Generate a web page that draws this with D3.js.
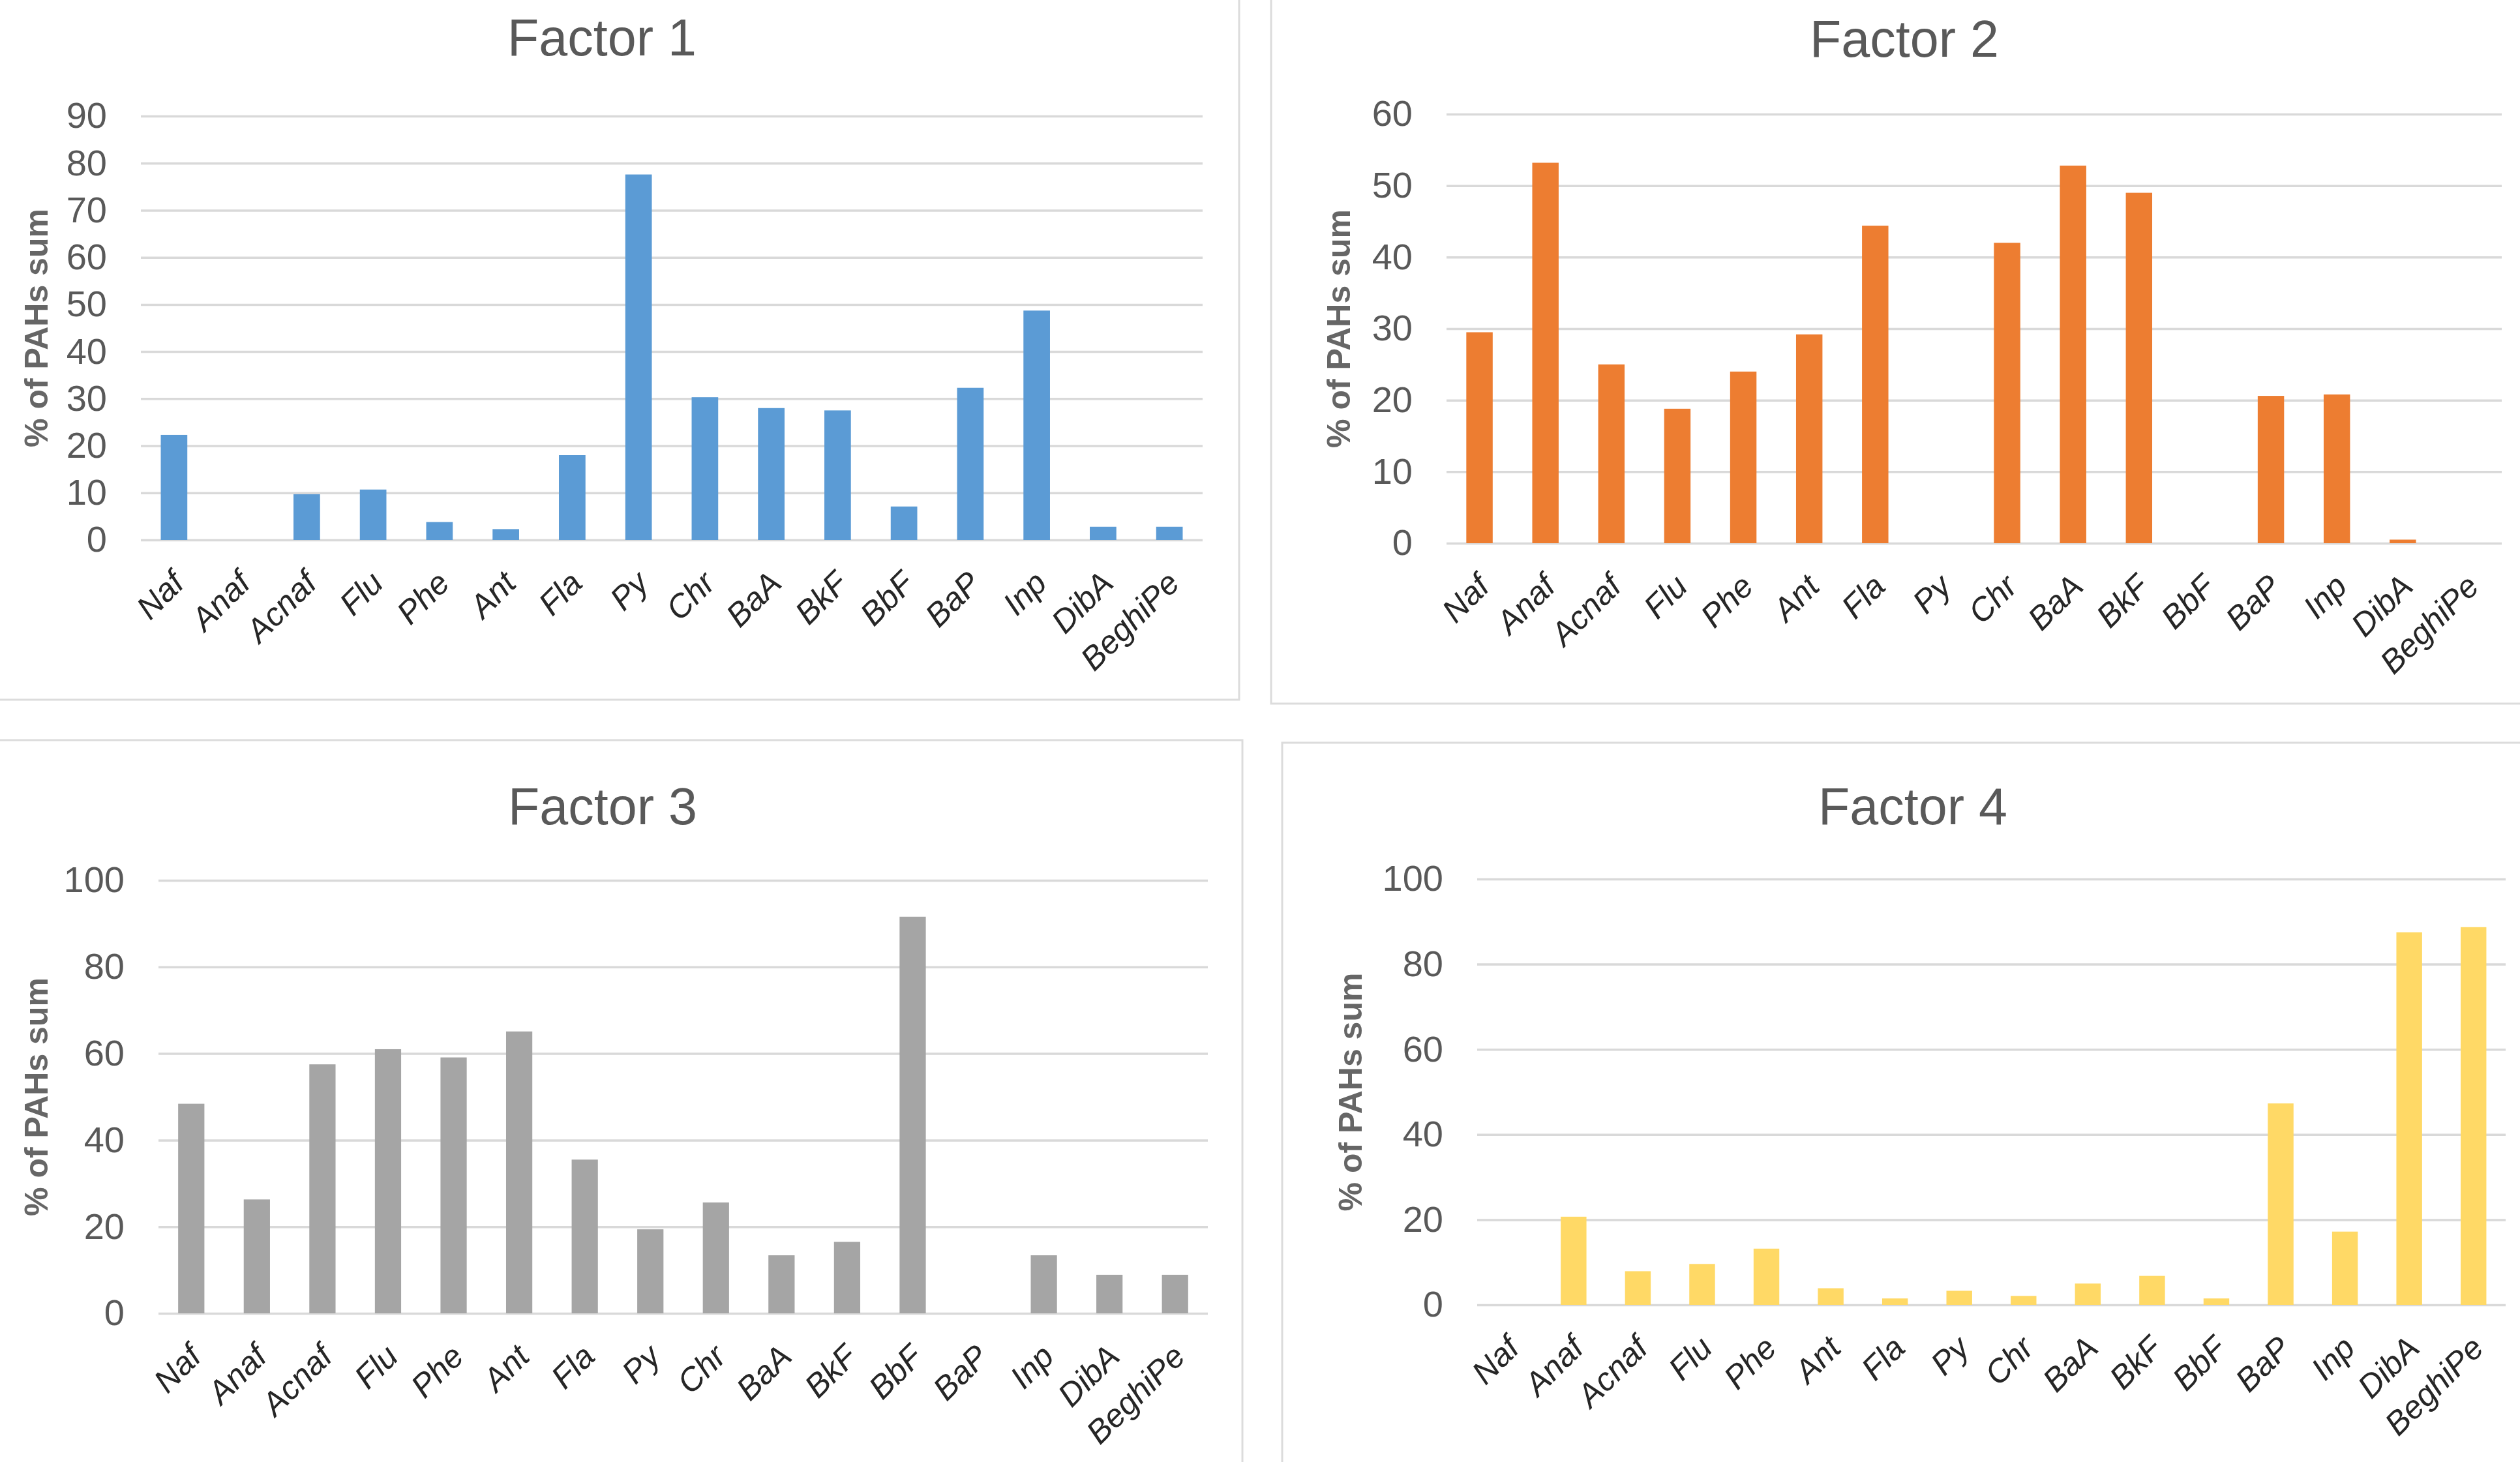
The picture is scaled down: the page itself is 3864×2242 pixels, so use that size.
<!DOCTYPE html>
<html lang="en">
  <head>
    <meta charset="UTF-8" />
    <title>PAH factor profiles</title>
    <style>
      html, body { margin: 0; padding: 0; background: #fff; }
      svg { display: block; }
    </style>
  </head>
  <body>
    <svg></svg>

    <script src="https://d3js.org/d3.v7.min.js"></script>
    <script>
      // data
      const categories = ["Naf", "Anaf", "Acnaf", "Flu", "Phe", "Ant", "Fla", "Py",
        "Chr", "BaA", "BkF", "BbF", "BaP", "Inp", "DibA", "BeghiPe"];

      const factor1 = [22.3, 0, 9.7, 10.7, 3.8, 2.3, 18.0, 77.6, 30.3, 28.0, 27.5, 7.1, 32.3, 48.7, 2.8, 2.8];
      const factor2 = [29.5, 53.2, 25.0, 18.8, 24.0, 29.2, 44.4, 0, 42.0, 52.8, 49.0, 0, 20.6, 20.8, 0.5, 0];
      const factor3 = [48.4, 26.3, 57.5, 61.0, 59.1, 65.1, 35.5, 19.4, 25.6, 13.4, 16.5, 91.6, 0, 13.4, 8.9, 8.9];
      const factor4 = [0, 20.7, 7.9, 9.6, 13.2, 3.9, 1.5, 3.3, 2.1, 5.0, 6.8, 1.5, 47.3, 17.2, 87.5, 88.7];

      const titles = ["Factor 1", "Factor 2", "Factor 3", "Factor 4"];
      const yMax = [90, 60, 100, 100];
      const yStep = [10, 10, 20, 20];
      const yLabel = "% of PAHs sum";

      const colors = ["#5B9BD5", "#ED7D31", "#A5A5A5", "#FFD966"];

      const width = 3864;
      const height = 2242;
      const font = "'Liberation Sans', Arial, sans-serif";

      // where each chart sits on the page
      const layout = [
        { frame: [-10, -10, 1900, 1073], plot: [216, 1844, 178, 828], titleX: 923, titleY: 85, yTitleX: 55 },
        { frame: [1949, -10, 3900, 1079], plot: [2218, 3836, 175, 833], titleX: 2920, titleY: 87, yTitleX: 2052 },
        { frame: [-10, 1135, 1905, 2300], plot: [243, 1852, 1350, 2014], titleX: 924, titleY: 1264, yTitleX: 55 },
        { frame: [1966, 1139, 3900, 2300], plot: [2265, 3842, 1348, 2001], titleX: 2933, titleY: 1264, yTitleX: 2070 },
      ];

      const series = [factor1, factor2, factor3, factor4];

      const svg = d3.select("svg").attr("width", width).attr("height", height);

      svg.append("rect").attr("width", width).attr("height", height).attr("fill", "#fff");

      series.forEach((values, i) => {
        const L = layout[i];
        const [x0, x1, yTop, yBottom] = L.plot;
        const g = svg.append("g");

        g.append("rect")
          .attr("x", L.frame[0])
          .attr("y", L.frame[1])
          .attr("width", L.frame[2] - L.frame[0])
          .attr("height", L.frame[3] - L.frame[1])
          .attr("fill", "#fff")
          .attr("stroke", "#dcdcdc")
          .attr("stroke-width", 3);

        const x = d3.scaleBand().domain(categories).range([x0, x1]).paddingInner(0.6).paddingOuter(0.3);
        const y = d3.scaleLinear().domain([0, yMax[i]]).range([yBottom, yTop]);

        const yAxis = g.append("g")
          .attr("transform", `translate(${x0},0)`)
          .call(
            d3.axisLeft(y)
              .tickValues(d3.range(0, yMax[i] + yStep[i], yStep[i]))
              .tickSize(-(x1 - x0))
              .tickPadding(52)
          );
        yAxis.select(".domain").remove();
        yAxis.selectAll(".tick line").attr("stroke", "#d9d9d9").attr("stroke-width", 3.5);
        yAxis.selectAll(".tick text")
          .attr("fill", "#595959")
          .style("font-family", font)
          .style("font-size", "56px");

        g.append("g")
          .selectAll("rect")
          .data(categories.map((c, k) => ({ c, v: values[k] })))
          .join("rect")
          .attr("x", (d) => x(d.c))
          .attr("width", x.bandwidth())
          .attr("y", (d) => y(d.v))
          .attr("height", (d) => y(0) - y(d.v))
          .attr("fill", colors[i]);

        g.append("g")
          .selectAll("text")
          .data(categories)
          .join("text")
          .attr("transform", (d) => `translate(${x(d) + x.bandwidth() / 2 + 6},${yBottom + 57}) rotate(-45)`)
          .attr("text-anchor", "end")
          .attr("dy", "0.35em")
          .attr("fill", "#262626")
          .style("font-family", font)
          .style("font-style", "italic")
          .style("font-size", "50px")
          .text((d) => d);

        g.append("text")
          .attr("x", L.titleX)
          .attr("y", L.titleY)
          .attr("text-anchor", "middle")
          .attr("fill", "#595959")
          .style("font-family", font)
          .style("font-size", "79px")
          .text(titles[i]);

        g.append("text")
          .attr("transform", `translate(${L.yTitleX},${(yTop + yBottom) / 2}) rotate(-90)`)
          .attr("text-anchor", "middle")
          .attr("dy", "0.35em")
          .attr("fill", "#666")
          .style("font-family", font)
          .style("font-weight", "bold")
          .style("font-size", "50px")
          .text(yLabel);
      });
    </script>
  </body>
</html>
